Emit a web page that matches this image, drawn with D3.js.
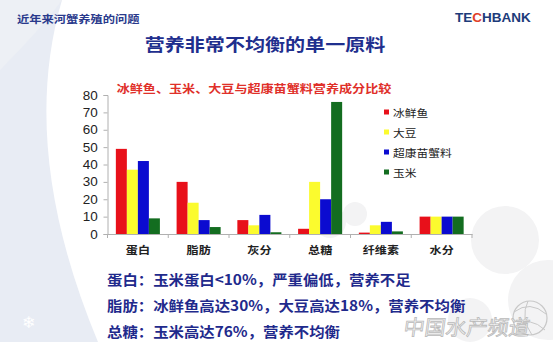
<!DOCTYPE html>
<html>
<head>
<meta charset="utf-8">
<script src="https://cdn.jsdelivr.net/npm/d3@7"></script>
<style>
  html, body { margin: 0; padding: 0; background: #ffffff; }
  svg { display: block; }
</style>
</head>
<body>
<svg id="chart" width="553" height="342"></svg>
<script>
// Nutrient categories and the four feed sources (percent content)
const categories = ["蛋白", "脂肪", "灰分", "总糖", "纤维素", "水分"];
const seriesNames = ["冰鲜鱼", "大豆", "超康苗蟹料", "玉米"];
const fishValues    = [49, 30, 8, 3, 0.8, 10];
const soybeanValues = [37, 18, 5, 30, 5, 10];
const feedValues    = [42, 8, 11, 20, 7, 10];
const cornValues    = [9, 4, 1, 76, 1.5, 10];
const yTicks = [0, 10, 20, 30, 40, 50, 60, 70, 80];
const seriesColors = ["#e8101a", "#fbfb2e", "#0b0bd0", "#136d20"];

const notes = [
  "蛋白：玉米蛋白<10%，严重偏低，营养不足",
  "脂肪：冰鲜鱼高达30%，大豆高达18%，营养不均衡",
  "总糖：玉米高达76%，营养不均衡"
];

const allValues = [fishValues, soybeanValues, feedValues, cornValues];
const rows = [];
categories.forEach((c, ci) => {
  seriesNames.forEach((s, si) => rows.push({ cat: c, series: s, si, value: allValues[si][ci] }));
});

const svg = d3.select("#chart");
const CJK = "'Noto Sans CJK SC', 'Noto Sans', sans-serif";
const LAT = "'Liberation Sans', Arial, sans-serif";

// Helper: horizontally widened text (slide text is wider than tall)
function wideText(parent, x, y, str, opts) {
  const g = parent.append("g").attr("transform", `translate(${x},${y}) scale(${opts.sx || 1},1)`);
  return g.append("text")
    .attr("x", 0).attr("y", 0)
    .attr("text-anchor", opts.anchor || "start")
    .attr("dominant-baseline", "central")
    .attr("font-family", opts.family || CJK)
    .attr("font-weight", opts.weight || "bold")
    .attr("font-size", opts.size)
    .attr("fill", opts.fill)
    .text(str);
}

// ---- Slide background ----
const bg = svg.append("g");
bg.append("rect").attr("width", 553).attr("height", 342).attr("fill", "#ffffff");
bg.append("path")
  .attr("d", "M0,0 L62,0 Q18,150 98,342 L0,342 Z")
  .attr("fill", "#e8ecf4");
bg.append("path")
  .attr("d", "M0,0 L62,0 Q40,30 0,70 Z")
  .attr("fill", "#edf0f5");
// faint decorative circles at the lower right
[[505, 240, 34], [548, 300, 40], [470, 320, 22], [330, 222, 16], [355, 214, 12]].forEach(([cx, cy, r]) => {
  bg.append("circle").attr("cx", cx).attr("cy", cy).attr("r", r).attr("fill", "#f3f3f4");
});
bg.append("text")
  .attr("x", 29).attr("y", 322)
  .attr("text-anchor", "middle").attr("dominant-baseline", "central")
  .attr("font-family", "'DejaVu Sans'").attr("font-size", 16)
  .attr("fill", "#ffffff").text("❄");

// ---- Header and logo ----
wideText(svg, 17, 18, "近年来河蟹养殖的问题", { size: 10.5, sx: 1.17, fill: "#2a3a8c" });
const logo = svg.append("g").attr("transform", "translate(455,17) scale(1.08,1)");
const logoText = logo.append("text")
  .attr("dominant-baseline", "central")
  .attr("font-family", LAT).attr("font-weight", "bold").attr("font-size", 12.5);
logoText.append("tspan").attr("fill", "#1d3b7a").text("TE");
logoText.append("tspan").attr("fill", "#e0402a").text("C");
logoText.append("tspan").attr("fill", "#1d3b7a").text("HBANK");

// ---- Titles ----
wideText(svg, 265, 43, "营养非常不均衡的单一原料", { size: 17, sx: 1.18, anchor: "middle", fill: "#1f2f8e" });
wideText(svg, 254, 88, "冰鲜鱼、玉米、大豆与超康苗蟹料营养成分比较", { size: 11, sx: 1.19, anchor: "middle", fill: "#e0302a" });

// ---- Chart ----
const x = d3.scaleBand().domain(categories).range([107.5, 472]).paddingInner(0.275).paddingOuter(0.1375);
const xs = d3.scaleBand().domain(seriesNames).range([0, x.bandwidth()]).padding(0);
const y = d3.scaleLinear().domain([0, 80]).range([234, 95]);

const axisColor = "#b0b0b0";

// y axis
const yAxis = svg.append("g")
  .attr("transform", `translate(${x.range()[0]},0)`)
  .call(d3.axisLeft(y).tickValues(yTicks).tickSize(4).tickPadding(5));
yAxis.select(".domain").attr("stroke", axisColor);
yAxis.selectAll(".tick line").attr("stroke", axisColor);
yAxis.selectAll(".tick text")
  .attr("font-family", LAT).attr("font-size", 12.5).attr("fill", "#222")
  .attr("transform", "scale(1.08,1)");

// bars
svg.append("g").selectAll("rect")
  .data(rows)
  .join("rect")
  .attr("x", d => x(d.cat) + xs(d.series))
  .attr("width", xs.bandwidth())
  .attr("y", d => y(d.value))
  .attr("height", d => y(0) - y(d.value))
  .attr("fill", d => seriesColors[d.si]);

// x axis line with ticks at category boundaries
const xAxis = svg.append("g").attr("transform", `translate(0,${y(0)})`);
xAxis.call(d3.axisBottom(x).tickSize(0).tickPadding(9));
xAxis.select(".domain").attr("stroke", axisColor);
xAxis.selectAll(".tick text").remove();
const step = x.step();
d3.range(categories.length + 1).forEach(i => {
  const bx = x.range()[0] + i * step;
  xAxis.append("line").attr("x1", bx).attr("x2", bx).attr("y1", 0).attr("y2", 4).attr("stroke", axisColor);
});
categories.forEach(c => {
  wideText(svg, x(c) + x.bandwidth() / 2, 249, c, { size: 10.5, sx: 1.15, anchor: "middle", fill: "#222", weight: "bold" });
});

// legend
const legend = svg.append("g");
seriesNames.forEach((s, i) => {
  const ly = 112 + i * 20;
  legend.append("rect").attr("x", 384).attr("y", ly - 2.5).attr("width", 5).attr("height", 5).attr("fill", seriesColors[i]);
  wideText(legend, 393, ly, s, { size: 10.5, sx: 1.12, fill: "#222", weight: "normal" });
});

// ---- Source mark (drawn before the notes so the notes stay on top) ----
const wm = svg.append("g");
wm.append("circle").attr("cx", 530).attr("cy", 318).attr("r", 17)
  .attr("fill", "none").attr("stroke", "#c8c8c8").attr("stroke-width", 1.2);
wm.append("path").attr("d", "M514,312 Q530,300 546,314 M516,326 Q530,316 545,330 M528,301 Q520,318 532,335")
  .attr("fill", "none").attr("stroke", "#c8c8c8").attr("stroke-width", 1);
wm.append("g").attr("transform", "translate(404,326) skewX(-8)")
  .append("text")
  .attr("x", 0).attr("y", 0).attr("dominant-baseline", "central")
  .attr("font-family", CJK).attr("font-size", 21).attr("font-weight", "normal")
  .attr("fill", "#f6f6f6").attr("stroke", "#b9b9b9").attr("stroke-width", 0.8)
  .text("中国水产频道");

// ---- Notes beneath the chart ----
notes.forEach((t, i) => {
  wideText(svg, 107, 279 + i * 26, t, { size: 14, sx: 1.1, fill: "#1f2a8c" });
});
</script>
</body>
</html>
